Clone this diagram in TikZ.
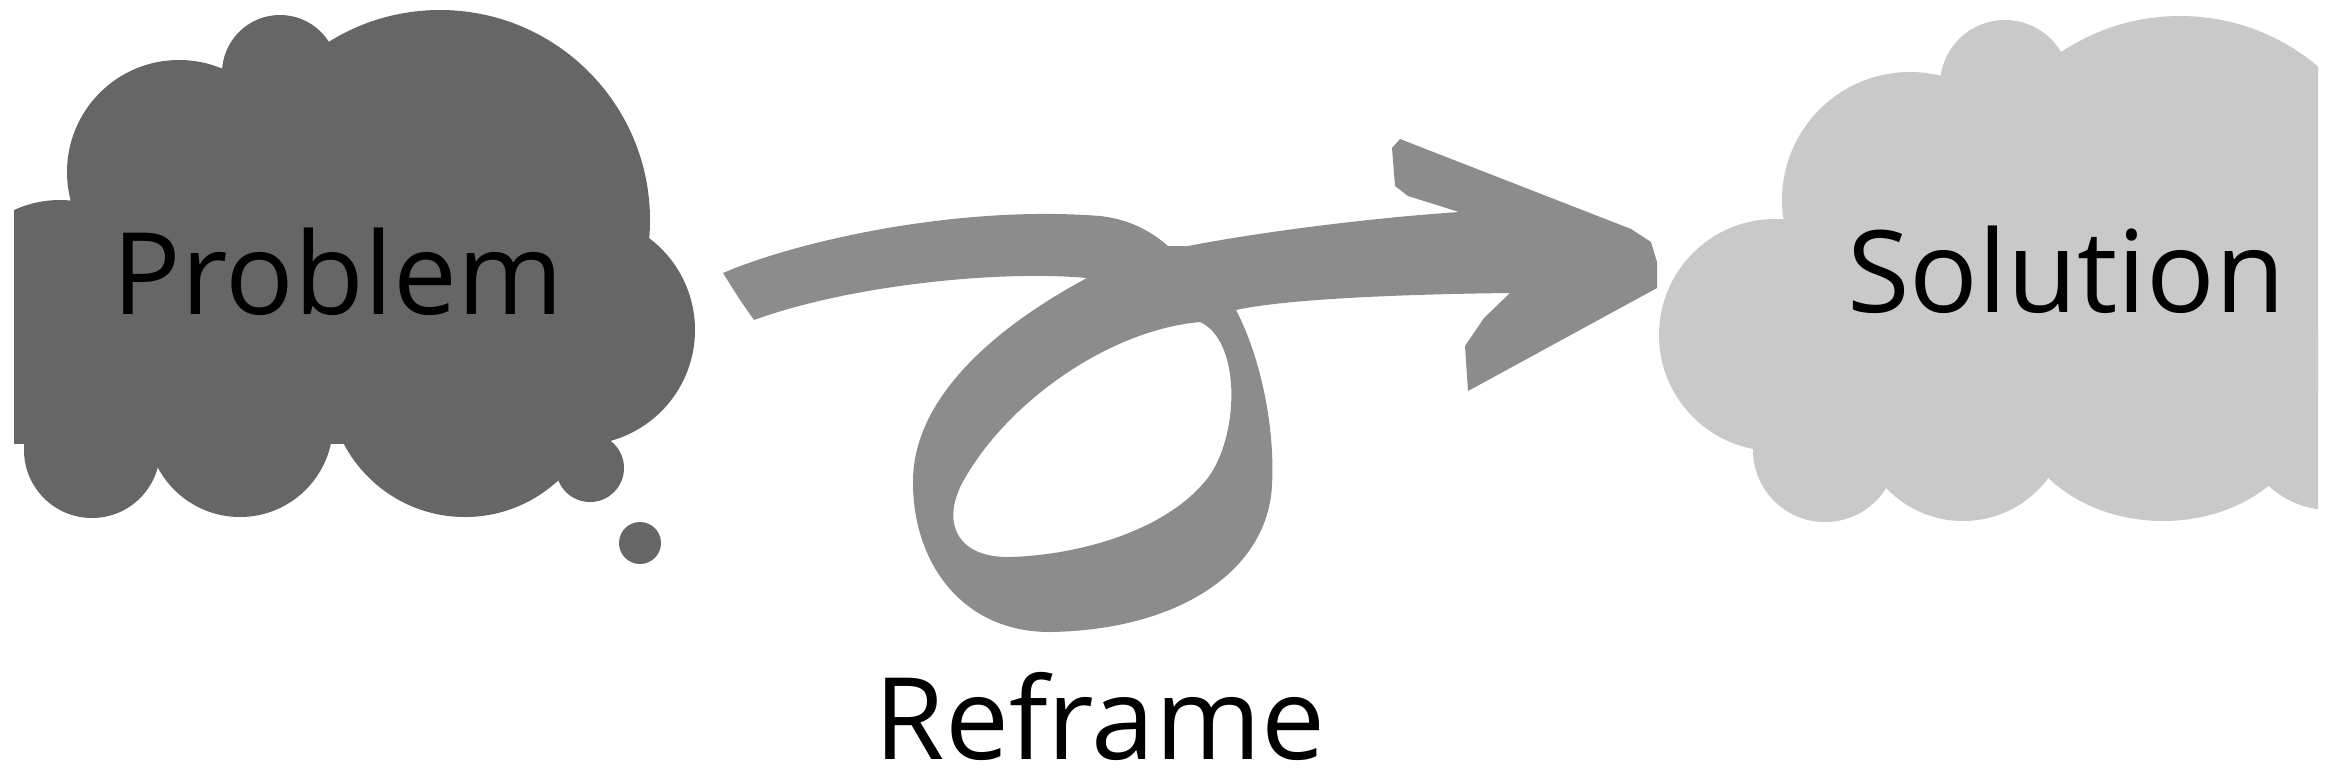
\documentclass[tikz,border=0pt]{standalone}
\usepackage{fontspec}
\setmainfont{Open Sans}
\usetikzlibrary{positioning}
\definecolor{ProblemGray}{RGB}{102,102,102}
\definecolor{SolutionGray}{RGB}{201,201,201}
\definecolor{ReframeGray}{RGB}{140,140,140}

\begin{document}
\begin{tikzpicture}[x=0.01cm, y=-0.01cm,
every node/.style={font=\fontsize{32.4}{39}\selectfont, inner sep=0pt},
problemcloud/.style={fill=ProblemGray},
solutioncloud/.style={fill=SolutionGray},
brush/.style={fill=ReframeGray, even odd rule}]
\useasboundingbox[fill=white] (0,0) rectangle (2333,778);
\begin{scope}
\clip (14,0) rectangle (720,778);
\fill[problemcloud] (0,215) rectangle (600,444);
\foreach \cx/\cy/\r in {60/310/110, 179/172/112, 280/73/58, 440/220/210, 580/330/115,
  465/380/137, 240/424/93, 92/450/68, 590/468/34}
  \fill[problemcloud] (\cx,\cy) circle (\r);
\end{scope}
\fill[problemcloud] (640,543) circle (21);
\begin{scope}
\clip (1600,0) rectangle (2318,778);
\fill[solutioncloud] (1780,230) rectangle (2318,450);
\foreach \cx/\cy/\r in {1775/335/116, 1910/200/128, 2005/85/65, 2180/230/214,
  1825/450/72, 1963/415/106, 2330/420/90}
  \fill[solutioncloud] (\cx,\cy) circle (\r);
\fill[solutioncloud] (2163,400) ellipse [x radius=150, y radius=121];
\end{scope}
\node[anchor=base] (problem) at (338,314) {Problem};
\node[anchor=base] (solution) at (2066,312) {Solution};
\node[anchor=base] (reframe) at (1100,759) {Reframe};
\fill[brush] (723,273) .. controls (800,240) and (960,205) .. (1100,216)
  .. controls (1135,220) and (1155,235) .. (1168,246) -- (1188,246)
  .. controls (1260,232) and (1370,218) .. (1459,212)
  -- (1408,196) -- (1395,186) -- (1392,148) -- (1400,139) -- (1631,229) -- (1651,242) -- (1657,262)
  -- (1657,288) -- (1468,391) -- (1465,346) -- (1484,318) -- (1510,293)
  .. controls (1420,294) and (1290,298) .. (1236,310)
  .. controls (1262,360) and (1275,430) .. (1272,485)
  .. controls (1268,570) and (1180,630) .. (1050,632)
  .. controls (960,632) and (912,560) .. (913,480)
  .. controls (914,400) and (990,330) .. (1087,278)
  .. controls (1000,270) and (850,285) .. (754,320)
  -- (740,300) -- cycle
  (1200,322) .. controls (1240,340) and (1240,430) .. (1210,475)
  .. controls (1170,530) and (1080,555) .. (1010,557)
  .. controls (955,558) and (940,520) .. (965,478)
  .. controls (1010,400) and (1110,330) .. (1200,322) -- cycle;
\end{tikzpicture}
\end{document}
